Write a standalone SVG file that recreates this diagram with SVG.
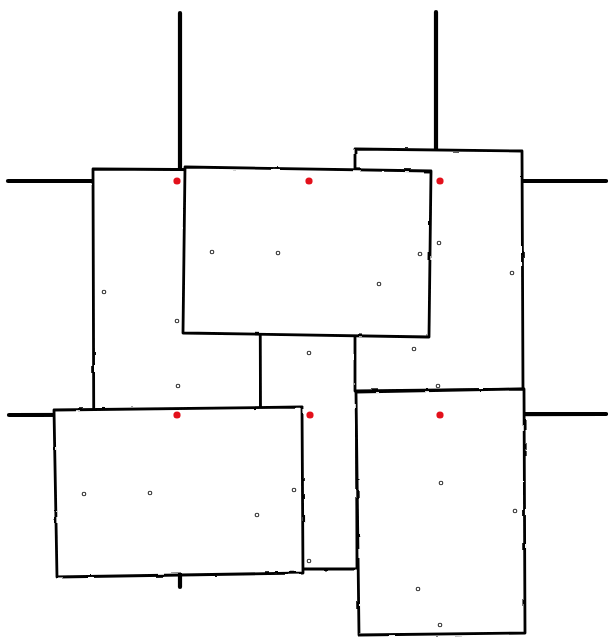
<svg xmlns="http://www.w3.org/2000/svg" width="608" height="637" viewBox="0 0 608 637">
<defs>
<filter id="rough" x="-5%" y="-5%" width="110%" height="110%">
<feTurbulence type="fractalNoise" baseFrequency="0.06" numOctaves="2" seed="3" result="n"/>
<feDisplacementMap in="SourceGraphic" in2="n" scale="2.2" xChannelSelector="R" yChannelSelector="G"/>
</filter>
<style>
.road{stroke:#000;stroke-width:4.2;stroke-linecap:round;fill:none}
.box{fill:#fff;stroke:#000;stroke-width:2.8;stroke-linejoin:round}
.anchor{fill:#e3101b;stroke:none}
.pt{fill:#fff;stroke:#333;stroke-width:1.1}
</style>
</defs>
<rect width="608" height="637" fill="#fff"/>
<g id="connectors">
<line class="road" x1="180" y1="13" x2="180" y2="587"/>
<line class="road" x1="436" y1="12" x2="436" y2="600"/>
<line class="road" x1="8" y1="181" x2="606" y2="181"/>
<line class="road" x1="9" y1="415" x2="606" y2="414"/>
</g>
<g filter="url(#rough)">
<g id="node-a"><path class="box" d="M93,169 L260,170 L261,505 L94,505 Z"/></g>
<g id="node-c"><path class="box" d="M260,250 L356,250 L357,569 L261,569 Z"/></g>
<g id="node-e"><path class="box" d="M355,149 L522,151 L523,389 L355,391 Z"/></g>
<g id="node-b"><path class="box" d="M185,167 L431,171 L429,337 L183,333 Z"/></g>
<g id="node-d"><path class="box" d="M54,410 L302,407 L303,573 L57,577 Z"/></g>
<g id="node-f"><path class="box" d="M356,392 L524,389 L525,633 L359,635 Z"/></g>
</g>
<g id="anchors">
<circle class="anchor" cx="177" cy="181" r="3.6"/>
<circle class="anchor" cx="309" cy="181" r="3.6"/>
<circle class="anchor" cx="440" cy="181" r="3.6"/>
<circle class="anchor" cx="177" cy="415" r="3.6"/>
<circle class="anchor" cx="310" cy="415" r="3.6"/>
<circle class="anchor" cx="440" cy="415" r="3.6"/>
</g>
<g id="points">
<circle class="pt" cx="212" cy="252" r="1.8"/>
<circle class="pt" cx="278" cy="253" r="1.8"/>
<circle class="pt" cx="104" cy="292" r="1.8"/>
<circle class="pt" cx="177" cy="321" r="1.8"/>
<circle class="pt" cx="309" cy="353" r="1.8"/>
<circle class="pt" cx="439" cy="243" r="1.8"/>
<circle class="pt" cx="420" cy="254" r="1.8"/>
<circle class="pt" cx="512" cy="273" r="1.8"/>
<circle class="pt" cx="379" cy="284" r="1.8"/>
<circle class="pt" cx="414" cy="349" r="1.8"/>
<circle class="pt" cx="438" cy="386" r="1.8"/>
<circle class="pt" cx="178" cy="386" r="1.8"/>
<circle class="pt" cx="84" cy="494" r="1.8"/>
<circle class="pt" cx="150" cy="493" r="1.8"/>
<circle class="pt" cx="294" cy="490" r="1.8"/>
<circle class="pt" cx="257" cy="515" r="1.8"/>
<circle class="pt" cx="309" cy="561" r="1.8"/>
<circle class="pt" cx="441" cy="483" r="1.8"/>
<circle class="pt" cx="515" cy="511" r="1.8"/>
<circle class="pt" cx="418" cy="589" r="1.8"/>
<circle class="pt" cx="440" cy="625" r="1.8"/>
</g>
</svg>
